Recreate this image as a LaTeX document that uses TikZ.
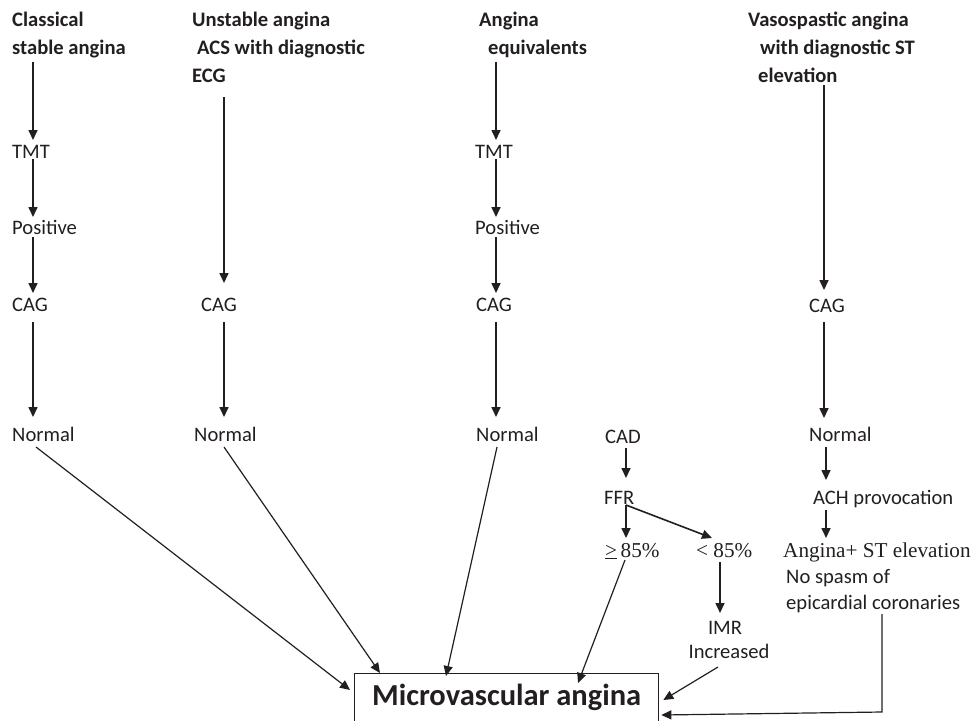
\documentclass[tikz,border=0pt]{standalone}
\usepackage{fontspec}
\setmainfont{Carlito}
\newfontfamily\serifx{Liberation Serif}
\usetikzlibrary{arrows.meta,calc}
\definecolor{ink}{HTML}{231F20}
\tikzset{
  txt/.style={anchor=base west, inner sep=0pt, text=ink, font=\fontsize{20.6}{24}\selectfont},
  hd/.style={txt, font=\fontsize{20.6}{24}\selectfont\bfseries},
  srf/.style={txt, font=\fontsize{21.2}{24}\selectfont\serifx},
  arr/.style={draw=ink, line width=1.6pt, -{Triangle[length=10pt,width=9pt]}},
  darr/.style={draw=ink, line width=1.2pt, -{Triangle[length=10pt,width=9pt]}},
}
\begin{document}
\begin{tikzpicture}[x=1pt,y=-1pt]
\useasboundingbox (0,0) rectangle (973,720);
\clip (0,0) rectangle (973,720);
% headings
\node[hd] (h1a) at (12,26.6) {Classical};
\node[hd] (h1b) at (12,54.6) {stable angina};
\node[hd] (h2a) at (192,26.6) {Unstable angina};
\node[hd] (h2b) at (197,54.6) {ACS with diagnostic};
\node[hd] (h2c) at (192,82.6) {ECG};
\node[hd] (h3a) at (479,26.6) {Angina};
\node[hd] (h3b) at (488,54.6) {equivalents};
\node[hd] (h4a) at (748,26.6) {Vasospastic angina};
\node[hd] (h4b) at (760,54.6) {with diagnostic ST};
\node[hd] (h4c) at (758,82.6) {elevation};
% column 1
\node[txt] (t1) at (12,158.6) {TMT};
\node[txt] (p1) at (12,234.6) {Positive};
\node[txt] (g1) at (12,311.6) {CAG};
\node[txt] (n1) at (12,441.6) {Normal};
% column 2
\node[txt] (g2) at (201,311.6) {CAG};
\node[txt] (n2) at (194,441.6) {Normal};
% column 3
\node[txt] (t3) at (475,158.6) {TMT};
\node[txt] (p3) at (475,234.6) {Positive};
\node[txt] (g3) at (476,311.6) {CAG};
\node[txt] (n3) at (476,441.6) {Normal};
% column 4
\node[txt] (g4) at (809,312) {CAG};
\node[txt] (n4) at (809,441.6) {Normal};
\node[txt] (ach) at (813,504.6) {ACH provocation};
\node[srf] (ang) at (783,557) {Angina+ ST elevation};
\node[txt] (nos) at (786,583.6) {No spasm of};
\node[txt] (epi) at (786,609.6) {epicardial coronaries};
% CAD branch
\node[txt] (cad) at (605,443.6) {CAD};
\node[txt] (ffr) at (604,504.6) {FFR};
\node[srf] (ge) at (605,557) {\underline{>}\,85\%};
\node[srf] (lt) at (696,557) {< 85\%};
\node[txt, anchor=base] (imr) at (725,634.6) {IMR};
\node[txt, anchor=base] (inc) at (729,658.6) {Increased};
% final box
\node[draw=ink, line width=1.3pt, anchor=north west, minimum width=304pt,
      inner xsep=0pt, inner ysep=10pt, text height=22pt, text depth=40pt,
      text=ink, font=\fontsize{30.5}{34}\selectfont\bfseries] (box) at (354,673) {Microvascular angina};
\coordinate (bend) at (882,712);
% vertical arrows column 1
\draw[arr] ($(h1b.base west)+(21,7.4)$) -- ($(t1.base west)+(21,-18.6)$);
\draw[arr] ($(t1.base west)+(21,0)$) -- ($(p1.base west)+(21,-17.6)$);
\draw[arr] ($(p1.base west)+(21,2.4)$) -- ($(g1.base west)+(21,-18.6)$);
\draw[arr] ($(g1.base west)+(21,10.4)$) -- ($(n1.base west)+(21,-24.6)$);
% column 2
\draw[arr] ($(h2c.base west)+(32,14.4)$) -- ($(g2.base west)+(23,-28.6)$);
\draw[arr] ($(g2.base west)+(23,10.4)$) -- ($(n2.base west)+(30,-24.6)$);
% column 3
\draw[arr] ($(h3b.base west)+(8,7.4)$) -- ($(t3.base west)+(21,-18.6)$);
\draw[arr] ($(t3.base west)+(21,0)$) -- ($(p3.base west)+(21,-17.6)$);
\draw[arr] ($(p3.base west)+(21,2.4)$) -- ($(g3.base west)+(20,-18.6)$);
\draw[arr] ($(g3.base west)+(20,10.4)$) -- ($(n3.base west)+(20,-24.6)$);
% column 4
\draw[arr] ($(h4c.base west)+(66,2.4)$) -- ($(g4.base west)+(15,-22)$);
\draw[arr] ($(g4.base west)+(15,10)$) -- ($(n4.base west)+(15,-23.6)$);
\draw[arr] ($(n4.base west)+(17,5.4)$) -- ($(ach.base west)+(13,-24.6)$);
\draw[arr] ($(ach.base west)+(13,5.4)$) -- ($(ang.base west)+(43,-19)$);
% CAD branch
\draw[arr] ($(cad.base west)+(21,4.4)$) -- ($(ffr.base west)+(22,-26.6)$);
\draw[arr] ($(ffr.base west)+(22,0.4)$) -- ($(ge.base west)+(21,-19)$);
\draw[arr] ($(ffr.base west)+(22,0.4)$) -- ($(lt.base west)+(16,-19)$);
\draw[arr] ($(lt.base west)+(24,5)$) -- ($(imr.base)+(-5,-21.6)$);
% into the box
\draw[darr] ($(n1.base west)+(24,5.4)$) -- ($(box.north west)+(-4,17)$);
\draw[darr] ($(n2.base west)+(30,5.4)$) -- ($(box.north west)+(26,0)$);
\draw[darr] ($(n3.base west)+(21,5.4)$) -- ($(box.north west)+(92,3)$);
\draw[darr] ($(ge.base west)+(20,3)$) -- ($(box.north west)+(224,10)$);
\draw[darr] ($(inc.base)+(-11,8.4)$) -- ($(box.north east)+(4,27)$);
\draw[darr] ($(epi.base west)+(96,4.4)$) -- (bend) -- ($(box.north east)+(2,42)$);
\end{tikzpicture}
\end{document}
